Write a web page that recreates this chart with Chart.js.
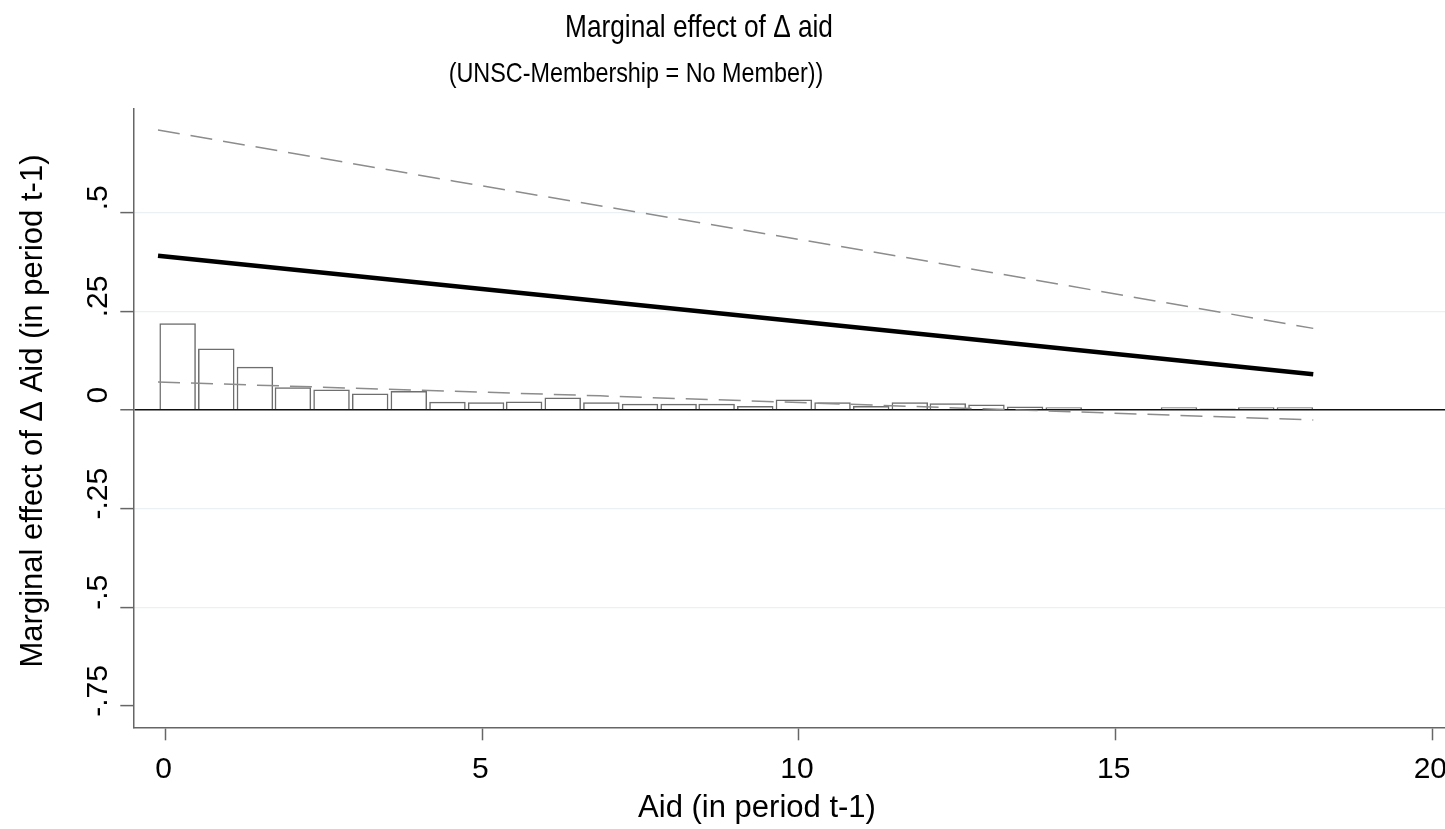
<!DOCTYPE html>
<html lang="en">
<head>
    <meta charset="UTF-8">
    <title>Marginal effect of Δ aid</title>
    <style>
        body {
            margin: 0;
            background-color: #fff;
        }
        #wrap {
            width: 1445px;
            height: 829px;
        }
    </style>
</head>
<body>
    <div id="wrap">
        <canvas id="meChart" width="1445" height="829"></canvas>
    </div>

    <script src="https://cdn.jsdelivr.net/npm/chart.js"></script>
    <script>
        // histogram of Aid (t-1), bin centres and heights
        const binCenters = [0.19, 0.80, 1.41, 2.01, 2.62, 3.23, 3.84, 4.45, 5.06, 5.66,
                            6.27, 6.88, 7.49, 8.10, 8.70, 9.31, 9.92, 10.53, 11.14, 11.75,
                            12.35, 12.96, 13.57, 14.18, 14.79, 15.39, 16.00, 16.61, 17.22, 17.83];
        const binHeights = [0.220, 0.156, 0.110, 0.058, 0.052, 0.042, 0.048, 0.021, 0.020, 0.022,
                            0.032, 0.020, 0.016, 0.016, 0.016, 0.010, 0.027, 0.020, 0.010, 0.020,
                            0.017, 0.014, 0.009, 0.007, 0, 0, 0.007, 0.004, 0.007, 0.007];

        // marginal effect and 95% bounds
        const effectX = [-0.12, 18.12];
        const effectY = [0.391, 0.091];
        const upperX = [-0.12, 4.56, 11.60, 18.12];
        const upperY = [0.710, 0.580, 0.389, 0.207];
        const lowerX = [-0.12, 6.86, 18.12];
        const lowerY = [0.071, 0.036, -0.025];

        const xTicks = [0, 5, 10, 15, 20];
        const yTicks = [-0.75, -0.5, -0.25, 0, 0.25, 0.5];
        const yTickLabels = ['-.75', '-.5', '-.25', '0', '.25', '.5'];

        const titleText = 'Marginal effect of Δ aid';
        const subtitleText = '(UNSC-Membership = No Member))';
        const xTitle = 'Aid (in period t-1)';
        const yTitle = 'Marginal effect of Δ Aid (in period t-1)';

        const sansFont = '"Liberation Sans", Arial, sans-serif';

        function toPoints(xs, ys) {
            return xs.map((x, i) => ({ x: x, y: ys[i] }));
        }

        // condensed text, like Arial Narrow
        function narrowText(ctx, text, cx, y, size) {
            ctx.save();
            ctx.font = size + 'px ' + sansFont;
            ctx.translate(cx, y);
            ctx.scale(0.82, 1);
            ctx.textAlign = 'center';
            ctx.fillText(text, 0, 0);
            ctx.restore();
        }

        const textPlugin = {
            id: 'stataText',
            afterDraw(chart) {
                const ctx = chart.ctx;
                const xs = chart.scales.x;
                const ys = chart.scales.y;
                ctx.save();
                ctx.fillStyle = '#000';
                ctx.textAlign = 'center';
                ctx.textBaseline = 'alphabetic';

                narrowText(ctx, titleText, 699, 37, 32);
                narrowText(ctx, subtitleText, 636, 82, 28.5);

                ctx.font = '30px ' + sansFont;
                xTicks.forEach(v => {
                    ctx.fillText(String(v), xs.getPixelForValue(v) - 2, 778);
                });
                yTicks.forEach((v, i) => {
                    ctx.save();
                    ctx.translate(107, ys.getPixelForValue(v) - 15);
                    ctx.rotate(-Math.PI / 2);
                    ctx.fillText(yTickLabels[i], 0, 0);
                    ctx.restore();
                });

                ctx.font = '31px ' + sansFont;
                ctx.fillText(xTitle, 757, 817);
                ctx.save();
                ctx.translate(42, 411);
                ctx.rotate(-Math.PI / 2);
                ctx.fillText(yTitle, 0, 0);
                ctx.restore();

                ctx.restore();
            }
        };

        const ctx = document.getElementById('meChart').getContext('2d');
        new Chart(ctx, {
            data: {
                datasets: [
                    {
                        type: 'line',
                        data: toPoints(effectX, effectY),
                        borderColor: '#000',
                        borderWidth: 4.5,
                        pointRadius: 0,
                        order: 1
                    },
                    {
                        type: 'line',
                        data: toPoints(upperX, upperY),
                        borderColor: '#8c8c8c',
                        borderWidth: 1.5,
                        borderDash: [22, 11],
                        pointRadius: 0,
                        order: 2
                    },
                    {
                        type: 'line',
                        data: toPoints(lowerX, lowerY),
                        borderColor: '#8c8c8c',
                        borderWidth: 1.5,
                        borderDash: [22, 11],
                        pointRadius: 0,
                        order: 3
                    },
                    {
                        type: 'bar',
                        data: toPoints(binCenters, binHeights),
                        backgroundColor: 'rgba(255,255,255,0)',
                        borderColor: '#6e6e6e',
                        borderWidth: 1.5,
                        barPercentage: 0.96,
                        categoryPercentage: 1,
                        order: 10
                    }
                ]
            },
            options: {
                responsive: false,
                animation: false,
                devicePixelRatio: 1,
                layout: {
                    padding: { top: 109, left: 0, right: 0, bottom: 0 }
                },
                plugins: {
                    legend: { display: false },
                    tooltip: { enabled: false },
                    title: { display: false }
                },
                scales: {
                    x: {
                        type: 'linear',
                        min: -0.51,
                        max: 20.2,
                        offset: false,
                        afterBuildTicks: scale => {
                            scale.ticks = xTicks.map(v => ({ value: v }));
                        },
                        afterFit: scale => {
                            scale.height = 101.7;
                        },
                        ticks: { display: false },
                        grid: {
                            offset: false,
                            drawOnChartArea: false,
                            drawTicks: true,
                            tickLength: 13,
                            tickColor: '#666',
                            tickWidth: 1.5
                        },
                        border: { display: true, color: '#666', width: 1.5 }
                    },
                    y: {
                        type: 'linear',
                        min: -0.804,
                        max: 0.763,
                        afterBuildTicks: scale => {
                            scale.ticks = yTicks.map(v => ({ value: v }));
                        },
                        afterFit: scale => {
                            scale.width = 133.3;
                        },
                        ticks: { display: false },
                        grid: {
                            drawTicks: true,
                            tickLength: 13,
                            tickColor: '#666',
                            tickWidth: 1.5,
                            color: c => {
                                if (c.tick.value === 0) return '#111';
                                if (c.tick.value === -0.75) return 'rgba(0,0,0,0)';
                                return '#e9f1f2';
                            },
                            lineWidth: c => (c.tick.value === 0 ? 1.5 : 1.2)
                        },
                        border: { display: true, color: '#666', width: 1.5 }
                    }
                }
            },
            plugins: [textPlugin]
        });
    </script>
</body>
</html>
